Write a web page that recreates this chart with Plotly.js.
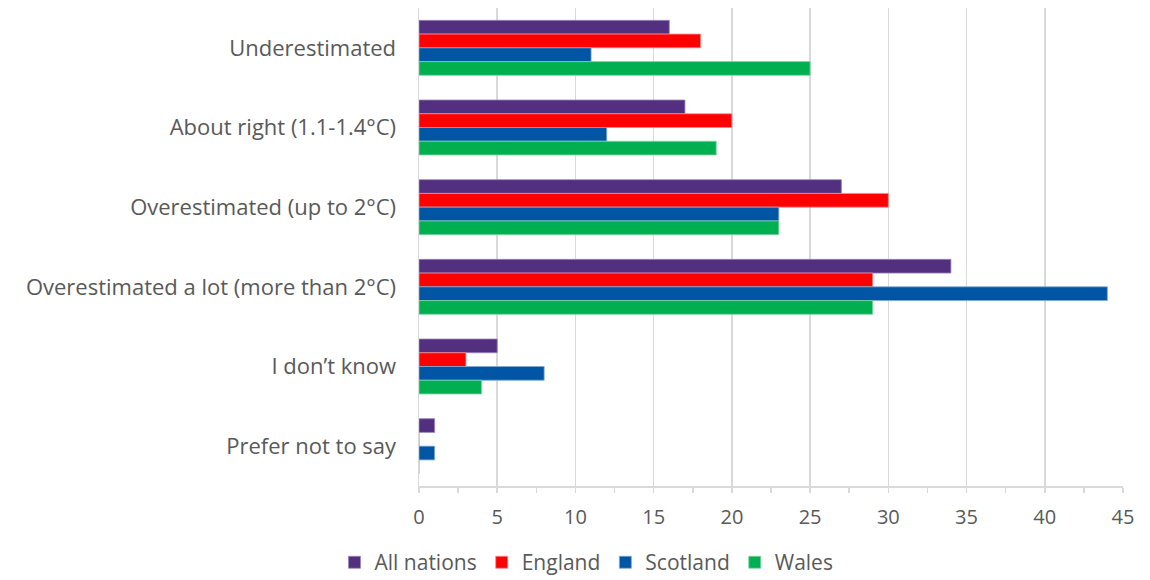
<!DOCTYPE html>
<html>
<head>
<meta charset="utf-8">
<script src="https://cdn.plot.ly/plotly-3.0.1.min.js"></script>
<style>html,body{margin:0;padding:0;background:#fff}#chart{width:1150px;height:580px}</style>
</head>
<body>
<div id="chart"></div>
<script>
const categories = ["Underestimated", "About right (1.1-1.4°C)", "Overestimated (up to 2°C)", "Overestimated a lot (more than 2°C)", "I don’t know", "Prefer not to say"];
const seriesNames = ["All nations", "England", "Scotland", "Wales"];
const allNations = [16, 17, 27, 34, 5, 1];
const england = [18, 20, 30, 29, 3, 0];
const scotland = [11, 12, 23, 44, 8, 1];
const wales = [25, 19, 23, 29, 4, 0];
const colors = ["#52307F", "#FF0000", "#0055A4", "#00B050"];
const lineColors = ["#9c86bd", "#ff8a8a", "#7fa9d4", "#7fd6a6"];
const xTicks = [0, 5, 10, 15, 20, 25, 30, 35, 40, 45];

const seriesValues = [allNations, england, scotland, wales];
const FONT = "Open Sans, Inter, sans-serif";
const traces = seriesValues.map((vals, i) => ({
  type: "bar",
  orientation: "h",
  name: seriesNames[i],
  y: categories,
  x: vals,
  marker: {color: colors[i], line: {color: lineColors[i], width: 0.8}},
  hoverinfo: "x+name"
}));

const layout = {
  width: 1150,
  height: 580,
  margin: {l: 419, r: 27, t: 8, b: 94, autoexpand: false},
  paper_bgcolor: "#ffffff",
  plot_bgcolor: "#ffffff",
  barmode: "group",
  bargap: 0.31,
  bargroupgap: 0,
  font: {family: FONT, color: "#595959", size: 20},
  showlegend: true,
  legend: {
    orientation: "h",
    xref: "container", yref: "container",
    x: 0.51, xanchor: "center",
    y: 0.03, yanchor: "middle",
    font: {family: FONT, size: 21, color: "#595959"},
    traceorder: "normal",
    itemwidth: 30
  },
  xaxis: {
    range: [0, 45],
    tickvals: xTicks,
    ticktext: xTicks.map(String),
    showgrid: true,
    gridcolor: "#d9d9d9",
    gridwidth: 1.5,
    zeroline: false,
    showline: true,
    linecolor: "#d9d9d9",
    linewidth: 1.5,
    ticks: "outside",
    ticklen: 5,
    tickcolor: "#d9d9d9",
    tickwidth: 1.5,
    ticklabelstandoff: 7,
    minor: {dtick: 2.5, ticks: "outside", ticklen: 5, tickcolor: "#d9d9d9", tickwidth: 1.5, showgrid: false},
    tickfont: {family: FONT, size: 20, color: "#595959"},
    fixedrange: true
  },
  yaxis: {
    type: "category",
    autorange: "reversed",
    showline: true,
    linecolor: "#d9d9d9",
    linewidth: 1.5,
    showgrid: false,
    ticks: "",
    ticklabelstandoff: 17,
    tickfont: {family: FONT, size: 22, color: "#595959"},
    fixedrange: true
  }
};

Plotly.newPlot("chart", traces, layout, {displayModeBar: false, staticPlot: true});
</script>
</body>
</html>
